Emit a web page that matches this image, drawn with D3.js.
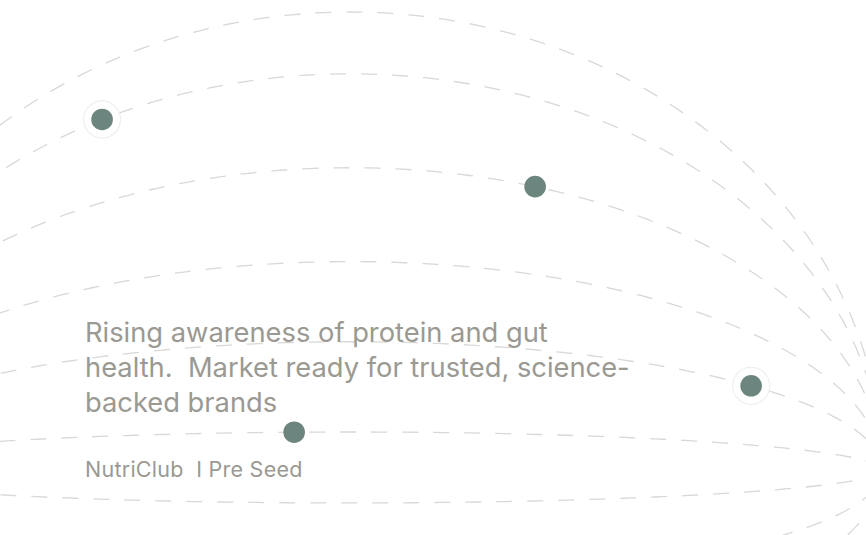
<!DOCTYPE html>
<html>
<head>
<meta charset="utf-8">
<script src="https://cdn.jsdelivr.net/npm/d3@7/dist/d3.min.js"></script>
<style>
  html, body { margin: 0; padding: 0; background: #ffffff; }
  svg { display: block; }
  text { font-family: Inter, "Noto Sans", sans-serif; white-space: pre; }
</style>
</head>
<body>
<svg id="svg" width="866" height="535"></svg>
<script>
// arc heights (peak, relative units; negative = below the axis)
var arcHeights = [100, 86.5, 66, 45.5, 28, 8.3, -7.2, -24.5, -40];

// dots sitting on arcs: which arc, where along it (-1 .. 1), halo or not
var dotArc = [1, 2, 4, 5];
var dotPos = [-0.466, 0.348, 0.754, -0.105];
var dotHalo = [true, false, true, false];

var headline = [
  'Rising awareness of protein and gut',
  'health.  Market ready for trusted, science-',
  'backed brands'
];
var footer = 'NutriClub  I Pre Seed';

var width = 866, height = 535;
var svg = d3.select('#svg');

var x = d3.scaleLinear().domain([-1, 1]).range([-182, 882]);
var y = d3.scaleLinear().domain([0, 100]).range([470, 12]);

// point on arc h at position u (-1..1)
function arcY(h, u) {
  return y(h * Math.sqrt(Math.max(0, 1 - u * u)));
}

var steps = d3.range(0, 181).map(function (d) { return -Math.cos(d * Math.PI / 180); });

var line = d3.line()
  .x(function (u) { return x(u); })
  .curve(d3.curveBasis);

svg.append('g').selectAll('path')
  .data(arcHeights)
  .enter().append('path')
  .attr('d', function (h) {
    return line.y(function (u) { return arcY(h, u); })(steps);
  })
  .attr('fill', 'none')
  .attr('stroke', '#d8d8d6')
  .attr('stroke-width', 1.3)
  .attr('stroke-dasharray', '16,15');

var dots = dotArc.map(function (a, i) {
  return { cx: x(dotPos[i]), cy: arcY(arcHeights[a], dotPos[i]), halo: dotHalo[i] };
});

var dg = svg.append('g');
dg.selectAll('circle.halo')
  .data(dots.filter(function (d) { return d.halo; }))
  .enter().append('circle')
  .attr('class', 'halo')
  .attr('cx', function (d) { return d.cx; })
  .attr('cy', function (d) { return d.cy; })
  .attr('r', 18.5)
  .attr('fill', '#ffffff')
  .attr('stroke', '#eeeeed')
  .attr('stroke-width', 1.2);

dg.selectAll('circle.dot')
  .data(dots)
  .enter().append('circle')
  .attr('class', 'dot')
  .attr('cx', function (d) { return d.cx; })
  .attr('cy', function (d) { return d.cy; })
  .attr('r', 10.8)
  .attr('fill', '#6d857f');

svg.append('g').selectAll('text')
  .data(headline)
  .enter().append('text')
  .attr('x', 85)
  .attr('y', function (d, i) { return 342 + i * 35; })
  .attr('fill', '#9a9992')
  .attr('font-size', 27.3)
  .text(function (d) { return d; });

svg.append('text')
  .attr('x', 85)
  .attr('y', 477)
  .attr('fill', '#9a9992')
  .attr('font-size', 21.5)
  .attr('letter-spacing', 0.25)
  .text(footer);
</script>
</body>
</html>
